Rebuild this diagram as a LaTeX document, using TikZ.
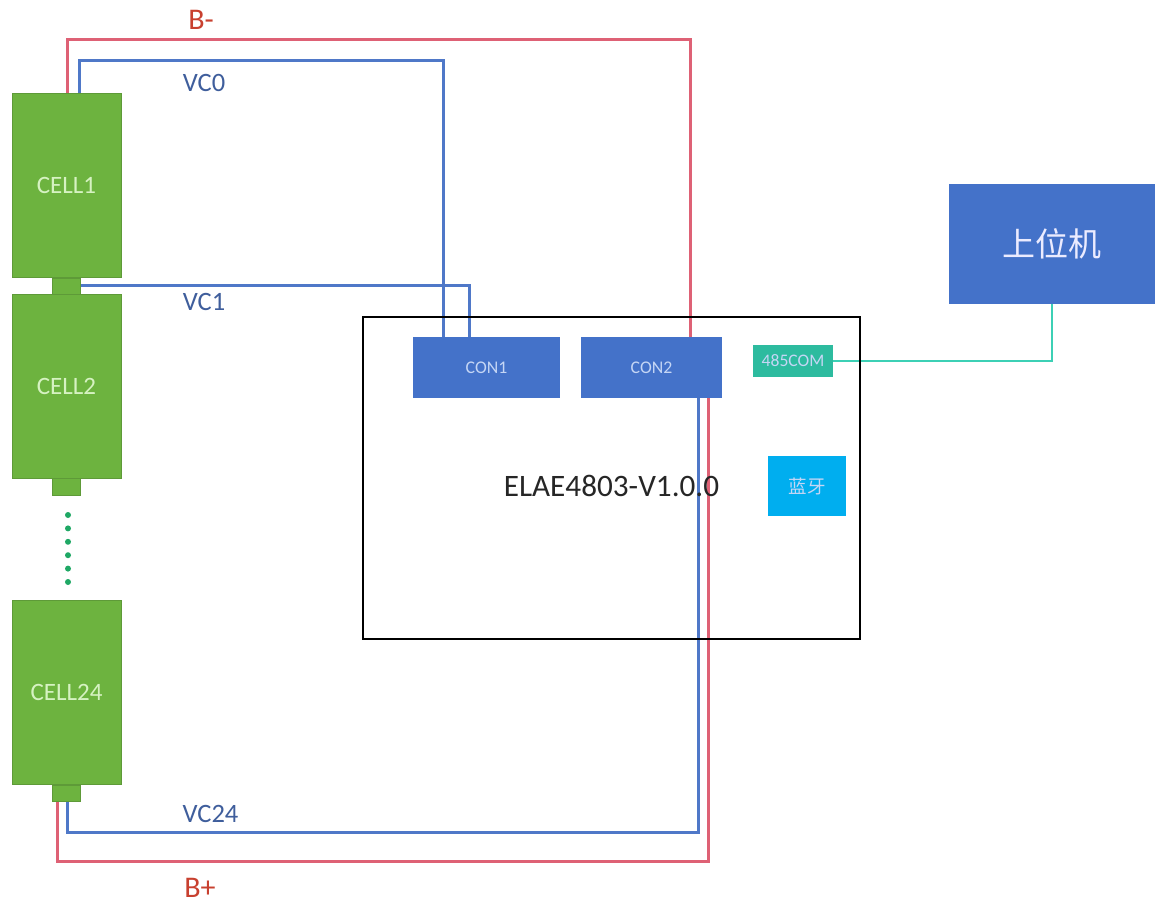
\documentclass[tikz,border=0pt]{standalone}
\usepackage{fontspec}
\setmainfont{Carlito}
\newfontfamily\cjk{Noto Sans CJK SC}
\definecolor{cellgreen}{HTML}{6DB33F}
\definecolor{cellline}{HTML}{5E9A38}
\definecolor{conblue}{HTML}{4472C9}
\definecolor{wireblue}{HTML}{4F78C8}
\definecolor{wirered}{HTML}{DE6175}
\definecolor{wireteal}{HTML}{3CD0B5}
\definecolor{comteal}{HTML}{2DBB9F}
\definecolor{btcyan}{HTML}{00AEEF}
\definecolor{celltext}{HTML}{D6F2C2}
\definecolor{context}{HTML}{C5D6F5}
\definecolor{vctext}{HTML}{3F5E9C}
\definecolor{btext}{HTML}{C8402F}
\definecolor{dotgreen}{HTML}{1FA865}
\tikzset{
  box/.style 2 args={anchor=north west,inner sep=0pt,outer sep=0pt,minimum width=#1,minimum height=#2},
  cellbox/.style={fill=cellgreen,draw=cellline,line width=0.8pt,text=celltext,font=\fontsize{25}{27}\selectfont},
  padbox/.style={fill=cellgreen,draw=cellline,line width=0.8pt},
  conbox/.style={fill=conblue,text=context,font=\fontsize{17.8}{20}\selectfont},
  redwire/.style={draw=wirered,line width=3pt,line join=miter},
  bluewire/.style={draw=wireblue,line width=3pt,line join=miter},
  tealwire/.style={draw=wireteal,line width=2.6pt,line join=miter},
  vclabel/.style={text=vctext,font=\fontsize{26.5}{29}\selectfont,inner sep=0pt},
  blabel/.style={text=btext,font=\fontsize{30}{32}\selectfont,inner sep=0pt},
  dotline/.style={draw=dotgreen,line width=6pt,line cap=round,dash pattern=on 0pt off 13.4pt}
}
\begin{document}
\begin{tikzpicture}[x=1pt,y=-1pt]
\useasboundingbox[fill=white] (0,0) rectangle (1157,903);
% way points
\coordinate (bmA) at (67,39);
\coordinate (bmB) at (690,39);
\coordinate (vcA) at (79,60);
\coordinate (vcB) at (443,60);
\coordinate (vcC) at (469,285);
\coordinate (bpA) at (57,861);
\coordinate (bpB) at (708,861);
\coordinate (vdA) at (67,832);
\coordinate (vdB) at (698,832);
\coordinate (comB) at (1052,361);
% nodes that wires connect to (drawn after wires)
\path (12,93) node[box={109pt}{184pt},name=cell1] {};
\path (52,278) node[box={28pt}{16pt},name=pad1] {};
\path (52,785) node[box={28pt}{16pt},name=pad3] {};
\path (413,337) node[box={147pt}{61pt},name=con1] {};
\path (581,337) node[box={141pt}{61pt},name=con2] {};
\path (753,345) node[box={80pt}{32pt},name=com] {};
\path (949,184) node[box={206pt}{120pt},name=host] {};
% wires
\draw[redwire] (bmA |- cell1.north) -- (bmA) -- (bmB) -- (bmB |- con2.north);
\draw[redwire] (bpA |- pad3.south) -- (bpA) -- (bpB) -- (bpB |- con2.south);
\draw[bluewire] (vcA |- cell1.north) -- (vcA) -- (vcB) -- (vcB |- con1.north);
\draw[bluewire] (pad1.east |- vcC) -- (vcC) -- (vcC |- con1.north);
\draw[bluewire] (vdA |- pad3.south) -- (vdA) -- (vdB) -- (vdB |- con2.south);
\draw[tealwire] (com.east) -- (comB) -- (comB |- host.south);
% board
\node[box={497pt}{322pt},draw=black,line width=2.2pt,name=board] at (363,317) {};
\node[name=boardlabel,inner sep=0pt,text=black!85,font=\fontsize{31.2}{34}\selectfont] at (611.5,486) {ELAE4803-V1.0.0};
% cells
\node[box={109pt}{184pt},cellbox,name=cell1a] at (12,93) {CELL1};
\node[box={28pt}{16pt},padbox,name=pad1a] at (52,278) {};
\node[box={109pt}{184pt},cellbox,name=cell2] at (12,294) {CELL2};
\node[box={28pt}{17pt},padbox,name=pad2] at (52,478) {};
\node[box={109pt}{184pt},cellbox,name=cell24] at (12,600) {CELL24};
\node[box={28pt}{16pt},padbox,name=pad3a] at (52,785) {};
\coordinate (dotsA) at (68,515);
\coordinate (dotsB) at (68,583);
\draw[dotline] (dotsA) -- (dotsB);
% boxes
\node[box={147pt}{61pt},conbox,name=con1a] at (413,337) {CON1};
\node[box={141pt}{61pt},conbox,name=con2a] at (581,337) {CON2};
\node[box={80pt}{32pt},fill=comteal,text=context,font=\fontsize{17.6}{20}\selectfont,name=coma] at (753,345) {485COM};
\node[box={78pt}{60pt},fill=btcyan,text=context,font=\cjk\fontsize{18.5}{21}\selectfont,name=bt] at (768,456) {蓝牙};
\node[box={206pt}{120pt},fill=conblue,text=white!92!blue,font=\cjk\fontsize{33}{37}\selectfont,name=hosta] at (949,184) {上位机};
% labels
\node[blabel,name=lbm] at (201,20) {B-};
\node[blabel,name=lbp] at (200,888) {B+};
\node[vclabel,name=lvc0] at (204,83) {VC0};
\node[vclabel,name=lvc1] at (204,302) {VC1};
\node[vclabel,name=lvc24] at (210.5,814) {VC24};
\end{tikzpicture}
\end{document}
